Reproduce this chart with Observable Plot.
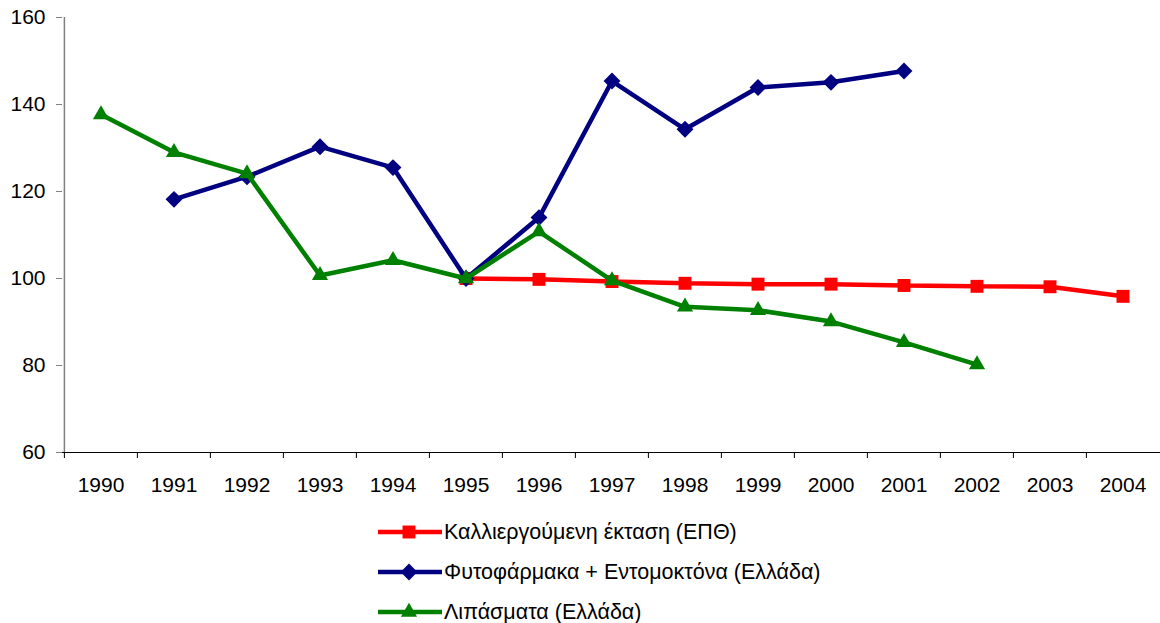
<!DOCTYPE html>
<html>
<head>
<meta charset="utf-8">
<script src="https://cdn.jsdelivr.net/npm/d3@7"></script>
<script src="https://cdn.jsdelivr.net/npm/@observablehq/plot@0.6"></script>
<style>
  body { margin: 0; background: #fff; font-family: "Liberation Sans", Arial, sans-serif; }
  #legend { margin-left: 378px; margin-top: 2px; }
  .row { display: flex; align-items: center; height: 40px; font-size: 21.5px; color: #000; }
  .row svg { margin-right: 2px; }
</style>
</head>
<body>
<div id="chart"></div>
<div id="legend"></div>
<script>
const years = ["1990","1991","1992","1993","1994","1995","1996","1997","1998","1999","2000","2001","2002","2003","2004"];
const seriesNames = ["Καλλιεργούμενη έκταση (ΕΠΘ)", "Φυτοφάρμακα + Εντομοκτόνα (Ελλάδα)", "Λιπάσματα (Ελλάδα)"];
const areaValues = [null, null, null, null, null, 100, 99.8, 99.3, 98.9, 98.7, 98.7, 98.4, 98.2, 98.1, 95.9];
const pestValues = [null, 118.2, 123.4, 130.3, 125.5, 100, 114.0, 145.4, 134.3, 143.9, 145.1, 147.7, null, null, null];
const fertValues = [137.7, 129.0, 124.1, 100.7, 104.2, 100, 110.8, 99.5, 93.5, 92.7, 90.1, 85.3, 80.2, null, null];
const yTicks = [60, 80, 100, 120, 140, 160];

const colors = ["#ff0000", "#000080", "#008000"];
const symbols = ["square", "diamond2", "triangle"];
const radii = [7.3, 7.6, 6.0];

const allValues = [areaValues, pestValues, fertValues];
const rows = allValues.map((vals, s) =>
  years.map((y, i) => ({year: y, value: vals[i], series: seriesNames[s]})).filter(d => d.value != null)
);

const width = 1160, height = 510, marginLeft = 62, marginRight = 0, marginTop = 17, marginBottom = 58;
const step = (width - marginLeft - marginRight) / years.length;

const marks = [
  Plot.ruleY([60], {stroke: "#000", strokeWidth: 1}),
  Plot.ruleX(years, {x: d => d, y1: 60, y2: 60, insetBottom: -6, dx: -step / 2, stroke: "#000"}),
  Plot.ruleX([years[0]], {dx: -step / 2, stroke: "#808080", strokeWidth: 1.5}),
  Plot.axisY({ticks: yTicks, tickSize: 6, tickPadding: 11, fontSize: 21, stroke: "#808080", fill: "#000", label: null}),
  Plot.axisX({tickSize: 0, tickPadding: 25, fontSize: 21, fill: "#000", label: null})
];
rows.forEach((data, s) => {
  marks.push(Plot.line(data, {x: "year", y: "value", stroke: colors[s], strokeWidth: 4.5, strokeLinejoin: "miter"}));
  marks.push(Plot.dot(data, {x: "year", y: "value", symbol: () => symbols[s], r: radii[s], fill: colors[s], stroke: "none"}));
});

const chart = Plot.plot({
  width, height, marginLeft, marginRight, marginTop, marginBottom,
  style: {fontFamily: "'Liberation Sans', Arial, sans-serif", background: "#fff", color: "#000"},
  x: {type: "band", domain: years, padding: 0, label: null},
  y: {domain: [60, 160], label: null},
  symbol: {type: "identity"},
  marks
});
document.getElementById("chart").appendChild(chart);

// legend
const legend = d3.select("#legend");
seriesNames.forEach((name, s) => {
  const row = legend.append("div").attr("class", "row");
  const svg = row.append("svg").attr("width", 64).attr("height", 20);
  svg.append("line").attr("x1", 0).attr("x2", 64).attr("y1", 10).attr("y2", 10)
    .attr("stroke", colors[s]).attr("stroke-width", 4.5);
  const symType = {square: d3.symbolSquare, diamond2: d3.symbolDiamond2, triangle: d3.symbolTriangle}[symbols[s]];
  svg.append("path").attr("transform", "translate(31,10)")
    .attr("d", d3.symbol(symType, Math.PI * radii[s] * radii[s])())
    .attr("fill", colors[s]);
  row.append("span").text(name);
});
</script>
</body>
</html>
